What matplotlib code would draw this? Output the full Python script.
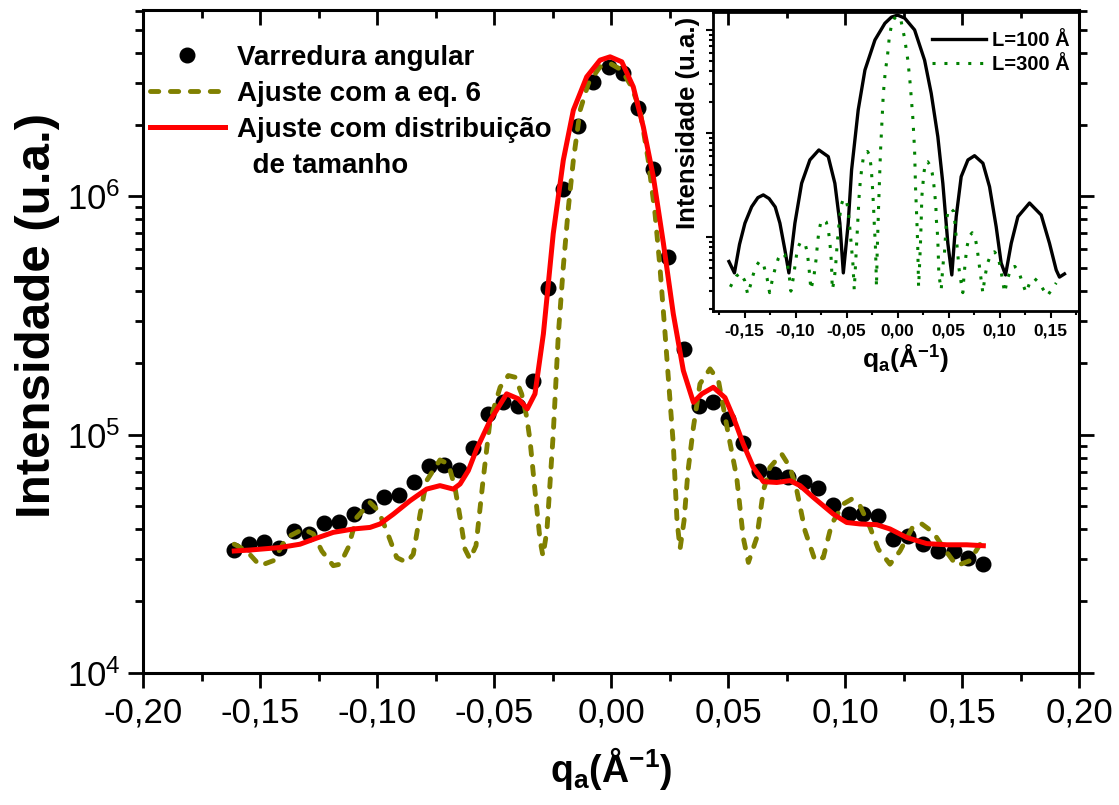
import matplotlib
matplotlib.use("Agg")
import matplotlib.pyplot as plt
from matplotlib.lines import Line2D
from matplotlib.ticker import (FixedLocator, FuncFormatter, LogLocator,
                               NullFormatter, MultipleLocator)

plt.rcParams["font.family"] = "Liberation Sans"
plt.rcParams["mathtext.fontset"] = "custom"
plt.rcParams["mathtext.rm"] = "Liberation Sans"
plt.rcParams["mathtext.bf"] = "Liberation Sans:bold"
plt.rcParams["mathtext.it"] = "Liberation Sans:italic"

# --- main panel: measured scan ---
q_scan = [-0.1610, -0.1546, -0.1483, -0.1419, -0.1355, -0.1291, -0.1226, -0.1162,
          -0.1098, -0.1034, -0.0970, -0.0906, -0.0842, -0.0778, -0.0714, -0.0650,
          -0.0588, -0.0524, -0.0460, -0.0396, -0.0335, -0.0268, -0.0204, -0.0140,
          -0.0078, -0.0007, 0.0053, 0.0117, 0.0181, 0.0245, 0.0312, 0.0377,
          0.0437, 0.0501, 0.0565, 0.0634, 0.0697, 0.0758, 0.0825, 0.0886,
          0.0950, 0.1017, 0.1078, 0.1142, 0.1206, 0.1271, 0.1332, 0.1399,
          0.1466, 0.1527, 0.1591]
i_scan = [3.28e4, 3.49e4, 3.55e4, 3.36e4, 3.95e4, 3.83e4, 4.24e4, 4.32e4,
          4.64e4, 5.03e4, 5.45e4, 5.58e4, 6.30e4, 7.39e4, 7.46e4, 7.11e4,
          8.76e4, 1.222e5, 1.367e5, 1.324e5, 1.686e5, 4.13e5, 1.078e6, 1.968e6,
          3.022e6, 3.494e6, 3.277e6, 2.358e6, 1.307e6, 5.56e5, 2.292e5, 1.324e5,
          1.367e5, 1.164e5, 9.19e4, 7.06e4, 6.84e4, 6.62e4, 6.30e4, 5.97e4,
          5.07e4, 4.64e4, 4.64e4, 4.57e4, 3.65e4, 3.76e4, 3.49e4, 3.25e4,
          3.25e4, 3.05e4, 2.86e4]

# fit with eq. 6
q_eq6 = [-0.1610, -0.1557, -0.1500, -0.1443, -0.1386, -0.1315, -0.1272, -0.1236,
         -0.1187, -0.1158, -0.1123, -0.1087, -0.1030, -0.0994, -0.0959, -0.0916,
         -0.0873, -0.0845, -0.0816, -0.0788, -0.0731, -0.0695, -0.0667, -0.0645,
         -0.0624, -0.0603, -0.0577, -0.0547, -0.0517, -0.0474, -0.0439, -0.0410,
         -0.0382, -0.0360, -0.0346, -0.0325, -0.0303, -0.0291, -0.0274, -0.0247,
         -0.0225, -0.0204, -0.0182, -0.0161, -0.0132, -0.0097, -0.0047, -0.0004,
         0.0046, 0.0088, 0.0124, 0.0159, 0.0188, 0.0209, 0.0231, 0.0252,
         0.0266, 0.0282, 0.0295, 0.0312, 0.0329, 0.0352, 0.0380, 0.0423,
         0.0459, 0.0480, 0.0501, 0.0537, 0.0565, 0.0587, 0.0623, 0.0651,
         0.0679, 0.0729, 0.0765, 0.0794, 0.0829, 0.0872, 0.0907, 0.0943,
         0.0993, 0.1029, 0.1064, 0.1107, 0.1142, 0.1192, 0.1235, 0.1292,
         0.1328, 0.1377, 0.1420, 0.1477, 0.1534, 0.1577]
i_eq6 = [3.47e4, 3.25e4, 2.82e4, 2.96e4, 3.70e4, 4.02e4, 3.83e4, 3.25e4,
         2.82e4, 2.86e4, 3.36e4, 4.49e4, 5.19e4, 4.79e4, 3.95e4, 3.05e4,
         2.91e4, 3.15e4, 4.64e4, 6.41e4, 7.83e4, 7.53e4, 6.01e4, 4.49e4,
         3.31e4, 3.01e4, 3.42e4, 6.41e4, 1.145e5, 1.580e5, 1.770e5, 1.741e5,
         1.483e5, 1.182e5, 9.43e4, 5.82e4, 3.59e4, 3.10e4, 3.95e4, 1.007e5,
         2.649e5, 5.05e5, 9.02e5, 1.417e6, 2.298e6, 2.975e6, 3.494e6, 3.611e6,
         3.383e6, 2.879e6, 2.298e6, 1.417e6, 8.46e5, 5.05e5, 2.649e5, 1.390e5,
         9.14e4, 4.35e4, 3.32e4, 4.35e4, 7.06e4, 1.073e5, 1.633e5, 1.888e5,
         1.686e5, 1.302e5, 1.007e5, 6.62e4, 3.70e4, 2.91e4, 3.70e4, 5.82e4,
         7.29e4, 8.30e4, 7.29e4, 5.82e4, 3.95e4, 2.96e4, 3.05e4, 4.22e4,
         5.12e4, 5.37e4, 5.03e4, 4.08e4, 3.31e4, 2.86e4, 3.25e4, 4.15e4,
         4.22e4, 3.89e4, 3.36e4, 2.82e4, 2.96e4, 3.47e4]

# fit with size distribution
q_dist = [-0.1610, -0.1543, -0.1415, -0.1329, -0.1258, -0.1187, -0.1101, -0.1030,
          -0.0987, -0.0930, -0.0859, -0.0788, -0.0731, -0.0674, -0.0645, -0.0610,
          -0.0574, -0.0517, -0.0446, -0.0396, -0.0358, -0.0325, -0.0289, -0.0247,
          -0.0204, -0.0161, -0.0104, -0.0047, -0.0004, 0.0046, 0.0095, 0.0138,
          0.0181, 0.0224, 0.0266, 0.0309, 0.0352, 0.0388, 0.0437, 0.0487,
          0.0523, 0.0565, 0.0608, 0.0651, 0.0708, 0.0765, 0.0808, 0.0865,
          0.0950, 0.1007, 0.1064, 0.1135, 0.1192, 0.1264, 0.1349, 0.1435,
          0.1520, 0.1591]
i_dist = [3.25e4, 3.28e4, 3.36e4, 3.47e4, 3.68e4, 3.89e4, 4.02e4, 4.08e4,
          4.22e4, 4.64e4, 5.28e4, 5.91e4, 6.11e4, 5.91e4, 6.21e4, 7.06e4,
          8.71e4, 1.145e5, 1.483e5, 1.413e5, 1.282e5, 1.483e5, 2.649e5, 6.97e5,
          1.417e6, 2.298e6, 3.171e6, 3.727e6, 3.848e6, 3.667e6, 2.879e6, 1.956e6,
          1.205e6, 6.33e5, 3.215e5, 1.857e5, 1.367e5, 1.483e5, 1.580e5, 1.43e5,
          1.182e5, 9.14e4, 7.29e4, 6.35e4, 6.30e4, 6.41e4, 6.11e4, 5.45e4,
          4.64e4, 4.28e4, 4.22e4, 4.19e4, 4.02e4, 3.70e4, 3.49e4, 3.45e4,
          3.45e4, 3.42e4]

# --- inset: simulated profiles ---
q_L100 = [-0.1654, -0.1600, -0.1550, -0.1497, -0.1431, -0.1370, -0.1317, -0.1260,
          -0.1200, -0.1154, -0.1105, -0.1066, -0.1007, -0.0941, -0.0860, -0.0772,
          -0.0680, -0.0615, -0.0566, -0.0532, -0.0484, -0.0451, -0.0386, -0.0320,
          -0.0222, -0.0124, -0.0060, 0.0, 0.0070, 0.0167, 0.0265, 0.0330,
          0.0395, 0.0444, 0.0493, 0.0532, 0.0575, 0.0624, 0.0690, 0.0755,
          0.0837, 0.0902, 0.0967, 0.1016, 0.1059, 0.1115, 0.1180, 0.1294,
          0.1409, 0.1490, 0.1556, 0.1588, 0.1637]
i_L100 = [0.58, 0.45, 0.85, 1.36, 1.96, 2.40, 2.55, 2.35,
          1.95, 1.36, 0.75, 0.45, 1.36, 3.3, 5.55, 6.93,
          5.98, 3.3, 1.36, 0.45, 1.36, 4.44, 16.9, 41.0,
          80.0, 116.0, 133.0, 139.0, 130.0, 100.0, 51.0, 24.4,
          9.3, 3.3, 0.87, 0.43, 1.57, 3.83, 5.55, 6.10,
          5.16, 3.06, 1.26, 0.56, 0.43, 0.87, 1.57, 2.13,
          1.63, 0.87, 0.48, 0.41, 0.44]

q_L300 = [-0.1640, -0.1620, -0.1580, -0.1540, -0.1500, -0.1470,
          -0.1440, -0.1420, -0.1390, -0.1350, -0.1310, -0.1280, -0.1255,
          -0.1225, -0.1200, -0.1170, -0.1140, -0.1110, -0.1080, -0.1060, -0.1046,
          -0.1023, -0.1007, -0.0992, -0.0975, -0.0955, -0.0930, -0.0905, -0.0885,
          -0.0870, -0.0860, -0.0850,
          -0.0820, -0.0800, -0.0784, -0.0771, -0.0755, -0.0729, -0.0700, -0.0678,
          -0.0666, -0.0656, -0.0648, -0.0640,
          -0.0622, -0.0608, -0.0592, -0.0572, -0.0555, -0.0530, -0.0500, -0.0484,
          -0.0464, -0.0450, -0.0438, -0.0425,
          -0.0410, -0.0400, -0.0390, -0.0378, -0.0366, -0.0353, -0.0337, -0.0318,
          -0.0295, -0.0275, -0.0258, -0.0246, -0.0236, -0.0228, -0.0218, -0.0212,
          -0.0207,
          -0.0200, -0.0193, -0.0186, -0.0178, -0.0168, -0.0156, -0.0140, -0.0120,
          -0.0100, -0.0080, -0.0059, -0.0030, 0.0, 0.0030, 0.0069, 0.0101,
          0.0124, 0.0150, 0.0167, 0.0176, 0.0189, 0.0198, 0.0206,
          0.0216, 0.0225, 0.0232, 0.0238, 0.0248, 0.0258, 0.0274, 0.0295,
          0.0314, 0.0340, 0.0356, 0.0366, 0.0376, 0.0379, 0.0389, 0.0395,
          0.0399, 0.0405, 0.0428,
          0.0438, 0.0450, 0.0460, 0.0467, 0.0474, 0.0483, 0.0500, 0.0520,
          0.0552, 0.0562, 0.0575, 0.0590, 0.0602, 0.0620, 0.0640,
          0.0650, 0.0662, 0.0680, 0.0705, 0.0732, 0.0760, 0.0780, 0.0800,
          0.0818, 0.0836,
          0.0855, 0.0880, 0.0915, 0.0950, 0.0985, 0.1010, 0.1030, 0.1050,
          0.1080, 0.1115, 0.1150, 0.1190, 0.1225, 0.1260,
          0.1300, 0.1340, 0.1390, 0.1430, 0.1470,
          0.1510, 0.1556]
i_L300 = [0.33, 0.36, 0.42, 0.45, 0.38, 0.28,
          0.35, 0.42, 0.52, 0.59, 0.52, 0.40, 0.29,
          0.40, 0.50, 0.62, 0.70, 0.68, 0.55, 0.40, 0.30,
          0.40, 0.52, 0.66, 0.80, 0.88, 0.90, 0.85, 0.70,
          0.52, 0.40, 0.31,
          0.42, 0.60, 0.89, 1.15, 1.35, 1.48, 1.40, 1.15,
          0.92, 0.72, 0.54, 0.31,
          0.38, 0.52, 0.87, 1.41, 2.0, 2.36, 2.2, 1.82,
          1.10, 0.75, 0.55, 0.31,
          0.60, 0.97, 1.5, 2.4, 3.42, 4.44, 5.75, 6.4,
          6.7, 6.2, 4.6, 3.0, 2.0, 1.3, 0.85, 0.55,
          0.33,
          0.70, 1.2, 2.0, 3.3, 6.5, 11.6, 24.0, 40.0,
          55.0, 87.0, 112.0, 130.0, 136.0, 128.0, 83.0, 51.0,
          30.0, 14.0, 6.9, 3.06, 1.46, 0.80, 0.33,
          0.54, 0.89, 1.46, 2.45, 3.18, 4.13, 5.27, 5.34,
          5.0, 4.13, 3.18, 2.55, 1.94, 1.52, 1.17, 0.90,
          0.70, 0.43, 0.31,
          0.43, 0.60, 0.70, 0.90, 1.17, 1.52, 1.85, 1.89,
          1.76, 1.36, 1.0, 0.70, 0.50, 0.38, 0.29,
          0.40, 0.55, 0.80, 1.02, 1.10, 1.00, 0.78, 0.55,
          0.40, 0.29,
          0.40, 0.55, 0.68, 0.72, 0.65, 0.50, 0.38, 0.29,
          0.40, 0.50, 0.52, 0.46, 0.36, 0.29,
          0.37, 0.40, 0.36, 0.31, 0.27,
          0.31, 0.36]

main_xticks = [-0.20, -0.15, -0.10, -0.05, 0.00, 0.05, 0.10, 0.15, 0.20]
inset_xticks = [-0.15, -0.10, -0.05, 0.00, 0.05, 0.10, 0.15]


def comma_fmt(v, pos):
    v = round(v, 2) + 0.0
    return f"{v:.2f}".replace(".", ",")


fig = plt.figure(figsize=(11.19, 8.05), dpi=100)
ax = fig.add_axes([0.1278, 0.1640, 0.8365, 0.8236])
ax_in = fig.add_axes([0.6372, 0.6137, 0.3271, 0.3714])
ax.set_zorder(2)
ax_in.set_zorder(1)
ax.patch.set_visible(False)

# main panel
ax.plot(q_eq6, i_eq6, color="#808000", lw=3.5, dashes=(1.7, 2.4),
        dash_capstyle="round", zorder=3)
ax.plot(q_dist, i_dist, color="#ff0000", lw=3.6, zorder=4)
ax.plot(q_scan, i_scan, "o", color="black", ms=10.5, zorder=2)

ax.set_yscale("log")
ax.set_xlim(-0.20, 0.20)
ax.set_ylim(1e4, 6.05e6)
ax.xaxis.set_major_locator(FixedLocator(main_xticks))
ax.xaxis.set_minor_locator(MultipleLocator(0.025))
ax.xaxis.set_major_formatter(FuncFormatter(comma_fmt))
ax.yaxis.set_major_locator(LogLocator(base=10, numticks=10))
ax.yaxis.set_minor_locator(LogLocator(base=10, subs=range(2, 10), numticks=20))
ax.yaxis.set_minor_formatter(NullFormatter())

for s in ax.spines.values():
    s.set_linewidth(2.2)
ax.tick_params(which="both", width=2.0, labelsize=25)
ax.tick_params(which="major", length=11)
ax.tick_params(which="minor", length=6)
ax.tick_params(axis="x", which="both", bottom=True, top=True, direction="out", pad=6)
ax.tick_params(axis="y", which="both", left=True, right=True, direction="out", pad=5)
# top and right ticks point inwards
for t in ax.xaxis.get_ticklines(minor=False)[1::2] + ax.xaxis.get_ticklines(minor=True)[1::2]:
    t.set_marker(3)
for t in ax.yaxis.get_ticklines(minor=False)[1::2] + ax.yaxis.get_ticklines(minor=True)[1::2]:
    t.set_marker(1)

ax.set_ylabel("Intensidade (u.a.)", fontsize=35.5, fontweight="bold")
ax.yaxis.set_label_coords(-0.089, 0.54)
ax.set_xlabel(r"q$_\mathbf{a}$(Å$^\mathbf{-1}$)", fontsize=27, fontweight="bold")
ax.xaxis.set_label_coords(0.5, -0.108)

handles = [
    Line2D([], [], ls="none", marker="o", color="black", ms=10.5),
    Line2D([], [], color="#808000", lw=3.5, dashes=(1.7, 2.4), dash_capstyle="round"),
    Line2D([], [], color="#ff0000", lw=3.6),
    Line2D([], [], ls="none"),
]
labels = ["Varredura angular", "Ajuste com a eq. 6", "Ajuste com distribuição",
          "  de tamanho"]
ax.legend(handles, labels, loc="upper left", bbox_to_anchor=(0.007, 0.947),
          frameon=False, borderaxespad=0, borderpad=0, handlelength=2.7,
          handletextpad=0.45, labelspacing=0.36,
          prop={"family": "Liberation Sans", "weight": "bold", "size": 20})

# inset
ax_in.plot(q_L100, i_L100, color="black", lw=2.4)
ax_in.plot(q_L300, i_L300, color="#008000", lw=2.2, dashes=(1, 2.9))
ax_in.set_yscale("log")
ax_in.set_xlim(-0.181, 0.178)
ax_in.set_ylim(0.193, 149)
ax_in.xaxis.set_major_locator(FixedLocator(inset_xticks))
ax_in.xaxis.set_minor_locator(MultipleLocator(0.025))
ax_in.xaxis.set_major_formatter(FuncFormatter(comma_fmt))
ax_in.yaxis.set_major_locator(LogLocator(base=10, numticks=10))
ax_in.yaxis.set_minor_locator(LogLocator(base=10, subs=range(2, 10), numticks=20))
ax_in.yaxis.set_major_formatter(NullFormatter())
ax_in.yaxis.set_minor_formatter(NullFormatter())
for s in ax_in.spines.values():
    s.set_linewidth(2.0)
ax_in.tick_params(which="both", direction="out", width=1.5, top=False, right=False)
ax_in.tick_params(which="major", length=5)
ax_in.tick_params(which="minor", length=3)
ax_in.tick_params(axis="x", pad=4)
for lab in ax_in.get_xticklabels():
    lab.set_fontsize(12.5)
    lab.set_fontweight("bold")
ax_in.set_ylabel("Intensidade (u.a.)", fontsize=18.5, fontweight="bold")
ax_in.yaxis.set_label_coords(-0.035, 0.63)
ax_in.set_xlabel(r"q$_\mathbf{a}$(Å$^\mathbf{-1}$)", fontsize=19, fontweight="bold")
ax_in.xaxis.set_label_coords(0.525, -0.105)
ax_in.legend(["L=100 Å", "L=300 Å"], loc="upper right", bbox_to_anchor=(0.975, 0.936),
             frameon=False, borderaxespad=0, borderpad=0, handlelength=2.7,
             handletextpad=0.3, labelspacing=0.23,
             prop={"family": "Liberation Sans", "weight": "bold", "size": 14.5})

fig.savefig("out.png", dpi=100, facecolor="white")
